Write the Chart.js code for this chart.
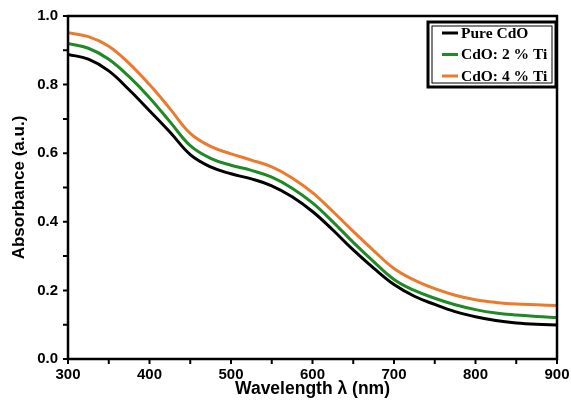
<!DOCTYPE html>
<html>
<head>
<meta charset="utf-8">
<script src="https://cdn.jsdelivr.net/npm/chart.js@4/dist/chart.umd.min.js"></script>
<style>
  html, body { margin: 0; padding: 0; background: #fff; }
  #wrap { width: 571px; height: 405px; }
</style>
</head>
<body>
<div id="wrap"><canvas id="myChart"></canvas></div>
<script>
// wavelengths (nm)
let wavelength = [300, 325, 350, 375, 400, 425, 450, 475, 500, 525, 550, 575, 600,
                  625, 650, 675, 700, 725, 750, 775, 800, 825, 850, 875, 900];
// absorbance for each sample
let pureCdO = [0.888, 0.874, 0.840, 0.785, 0.724, 0.662, 0.596, 0.560, 0.540, 0.525, 0.505, 0.473, 0.430,
               0.376, 0.318, 0.265, 0.217, 0.183, 0.159, 0.138, 0.123, 0.112, 0.105, 0.101, 0.099];
let ti2 = [0.920, 0.906, 0.874, 0.823, 0.762, 0.692, 0.622, 0.585, 0.565, 0.550, 0.530, 0.498, 0.455,
           0.400, 0.340, 0.284, 0.232, 0.200, 0.177, 0.158, 0.144, 0.134, 0.128, 0.124, 0.121];
let ti4 = [0.951, 0.940, 0.912, 0.862, 0.800, 0.730, 0.658, 0.620, 0.598, 0.580, 0.560, 0.528, 0.485,
           0.430, 0.372, 0.316, 0.264, 0.230, 0.205, 0.186, 0.173, 0.165, 0.160, 0.158, 0.156];
let seriesNames = ["Pure CdO", "CdO: 2 % Ti", "CdO: 4 % Ti"];
let seriesColors = ["#000000", "#1f8a24", "#ec7a2c"];
let xTicks = [300, 400, 500, 600, 700, 800, 900];
let yTicks = [0.0, 0.2, 0.4, 0.6, 0.8, 1.0];

function toPoints(ys){
    return wavelength.map((x, i) => ({x: x, y: ys[i]}));
}

// frame, major/minor outward ticks and the boxed legend
const frameAndLegend = {
  id: 'frameAndLegend',
  afterDraw(chart){
    const ctx = chart.ctx;
    const a = chart.chartArea;
    const xs = chart.scales.x, ys = chart.scales.y;
    ctx.save();
    ctx.strokeStyle = '#000';
    ctx.lineWidth = 2.5;
    ctx.strokeRect(a.left, a.top, a.right - a.left, a.bottom - a.top);
    ctx.lineWidth = 2;
    ctx.beginPath();
    for(let v = 300; v <= 900; v += 50){
        const px = xs.getPixelForValue(v);
        ctx.moveTo(px, a.bottom);
        ctx.lineTo(px, a.bottom + 5);
    }
    for(let v = 0; v <= 10; v++){
        const py = ys.getPixelForValue(v / 10);
        ctx.moveTo(a.left, py);
        ctx.lineTo(a.left - 5, py);
    }
    ctx.stroke();

    // legend box
    const bx = 428, by = 22, bw = 128, bh = 65;
    ctx.lineWidth = 3;
    ctx.strokeRect(bx, by, bw, bh);
    ctx.lineWidth = 1;
    ctx.strokeRect(bx + 4, by + 4, bw - 8, bh - 8);
    ctx.font = 'bold 15.5px "Liberation Serif", "Times New Roman", serif';
    ctx.textBaseline = 'middle';
    ctx.fillStyle = '#000';
    chart.data.datasets.forEach((ds, i) => {
        const ly = 33 + i * 21.5;
        ctx.strokeStyle = ds.borderColor;
        ctx.lineWidth = 3;
        ctx.beginPath();
        ctx.moveTo(442, ly);
        ctx.lineTo(458, ly);
        ctx.stroke();
        ctx.fillText(ds.label, 461, ly + 0.5);
    });
    ctx.restore();
  }
};

let ctx = document.getElementById('myChart').getContext("2d");

var chart = new Chart(ctx, {
    type: 'line',
    data: {
      datasets: [pureCdO, ti2, ti4].map((ys, i) => ({
        label: seriesNames[i],
        data: toPoints(ys),
        borderColor: seriesColors[i],
        backgroundColor: seriesColors[i],
        borderWidth: 3,
        pointRadius: 0,
        fill: false,
        tension: 0.4,
      })),
    },
    options: {
      responsive: true,
      maintainAspectRatio: false,
      animation: false,
      layout: { padding: { top: 16, right: 14, left: 0, bottom: 0 } },
      plugins: {
        legend: { display: false },
        tooltip: { enabled: false },
      },
      scales: {
        x: {
          type: 'linear',
          min: 300, max: 900,
          afterBuildTicks: s => { s.ticks = xTicks.map(v => ({value: v})); },
          afterFit: s => { s.height = 46; s.paddingLeft = 0; s.paddingRight = 0; },
          grid: { display: false, drawTicks: false },
          border: { display: false },
          ticks: {
            color: '#000',
            padding: 7,
            font: { family: '"Liberation Sans", Arial, sans-serif', size: 15, weight: 'bold' },
          },
          title: {
            display: true,
            text: 'Wavelength λ (nm)',
            color: '#000',
            padding: { top: 0, bottom: 5 },
            font: { family: '"Liberation Sans", Arial, sans-serif', size: 17.5, weight: 'bold' },
          },
        },
        y: {
          min: 0, max: 1,
          afterBuildTicks: s => { s.ticks = yTicks.map(v => ({value: v})); },
          afterFit: s => { s.width = 68; s.paddingTop = 0; s.paddingBottom = 0; },
          grid: { display: false, drawTicks: false },
          border: { display: false },
          ticks: {
            color: '#000',
            padding: 10,
            callback: v => v.toFixed(1),
            font: { family: '"Liberation Sans", Arial, sans-serif', size: 15, weight: 'bold' },
          },
          title: {
            display: true,
            text: 'Absorbance (a.u.)',
            color: '#000',
            padding: { top: 9, bottom: 0 },
            font: { family: '"Liberation Sans", Arial, sans-serif', size: 17, weight: 'bold' },
          },
        },
      },
    },
    plugins: [frameAndLegend],
});
</script>
</body>
</html>
